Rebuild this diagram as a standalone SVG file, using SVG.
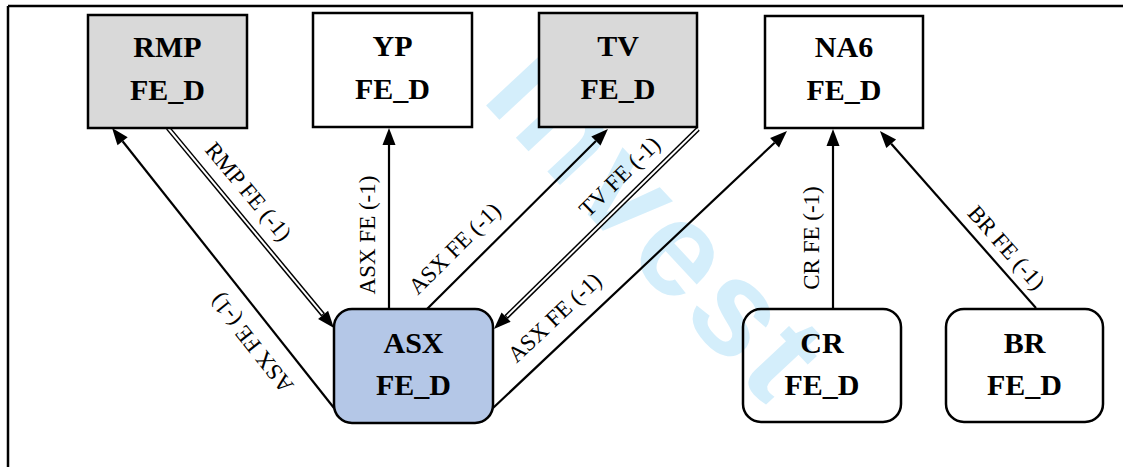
<svg xmlns="http://www.w3.org/2000/svg" width="1123" height="467" viewBox="0 0 1123 467">
<style>
.box{stroke:#000;stroke-width:2.5}
.plain{fill:#fff}
.gray{fill:#d9d9d9}
.blue{fill:#b4c7e7}
.nt{font-family:"Liberation Serif","Times New Roman",serif;font-weight:bold;font-size:30px;text-anchor:middle;fill:#000}
.lt{font-family:"Liberation Serif","Times New Roman",serif;font-size:23px;text-anchor:middle;fill:#000}
.ln{stroke:#000;stroke-width:2.2;fill:none}
.dbl{stroke:#000;stroke-width:5;fill:none}
.dblw{stroke:#fff;stroke-width:2;fill:none}
.wm{font-family:"Liberation Sans",Arial,sans-serif;font-weight:bold;font-size:135px;letter-spacing:6px;fill:#d4eefb}
</style>
<defs>
<marker id="ah" markerUnits="userSpaceOnUse" markerWidth="18" markerHeight="14" refX="0" refY="6.5" orient="auto" overflow="visible">
<path d="M0,0 L17,6.5 L0,13 z" fill="#000"/>
</marker>
</defs>
<rect width="1123" height="467" fill="#fff"/>
<g id="watermark">
<text class="wm" transform="translate(676,258) rotate(47)" x="-250" y="35">Invest</text>
</g>
<g id="frame">
<line x1="8" y1="6" x2="1123" y2="6" stroke="#000" stroke-width="2.5"/>
<line x1="8" y1="6" x2="8" y2="467" stroke="#000" stroke-width="2.5"/>
</g>
<g id="connectors">
<line class="ln" x1="334" y1="408" x2="122.6" y2="141.3" marker-end="url(#ah)"/>
<line class="dbl" x1="168" y1="128" x2="323.1" y2="314.9" marker-end="url(#ah)"/>
<line class="dblw" x1="168" y1="128" x2="322.5" y2="314.1"/>
<line class="ln" x1="389" y1="309" x2="389" y2="145" marker-end="url(#ah)"/>
<line class="ln" x1="427" y1="309" x2="595.9" y2="141.0" marker-end="url(#ah)"/>
<line class="dbl" x1="698" y1="129" x2="506.1" y2="317.1" marker-end="url(#ah)"/>
<line class="dblw" x1="698" y1="129" x2="506.8" y2="316.4"/>
<line class="ln" x1="493" y1="408" x2="774.6" y2="142.7" marker-end="url(#ah)"/>
<line class="ln" x1="833" y1="309" x2="833" y2="146" marker-end="url(#ah)"/>
<line class="ln" x1="1036" y1="308" x2="891.2" y2="143.8" marker-end="url(#ah)"/>
<g id="labels">
<text class="lt" transform="translate(252,343) rotate(231.6)" x="0" y="7">ASX FE (-1)</text>
<text class="lt" transform="translate(248,192) rotate(50.1)" x="0" y="7">RMP FE (-1)</text>
<text class="lt" transform="translate(368,235) rotate(-90)" x="0" y="7">ASX FE (-1)</text>
<text class="lt" transform="translate(455,249) rotate(-44.8)" x="0" y="7">ASX FE (-1)</text>
<text class="lt" transform="translate(620,177) rotate(-44.6)" x="0" y="7">TV FE (-1)</text>
<text class="lt" transform="translate(555,318) rotate(-43.2)" x="0" y="7">ASX FE (-1)</text>
<text class="lt" transform="translate(812,238) rotate(-90)" x="0" y="7">CR FE (-1)</text>
<text class="lt" transform="translate(1006,248) rotate(48.5)" x="0" y="7">BR FE (-1)</text>
</g>
</g>
<g id="RMP">
<rect class="box gray" x="88" y="15" width="159" height="113"/>
<text class="nt" x="167.5" y="57">RMP</text>
<text class="nt" x="167.5" y="100">FE_D</text>
</g>
<g id="YP">
<rect class="box plain" x="313" y="13" width="159" height="114"/>
<text class="nt" x="392.5" y="56">YP</text>
<text class="nt" x="392.5" y="99">FE_D</text>
</g>
<g id="TV">
<rect class="box gray" x="539" y="13" width="158" height="114"/>
<text class="nt" x="618" y="56">TV</text>
<text class="nt" x="618" y="99">FE_D</text>
</g>
<g id="NA6">
<rect class="box plain" x="765" y="16" width="158" height="112"/>
<text class="nt" x="844" y="57">NA6</text>
<text class="nt" x="844" y="100">FE_D</text>
</g>
<g id="ASX">
<rect class="box blue" x="334" y="309" width="159" height="114" rx="18" ry="18"/>
<text class="nt" x="413.5" y="353">ASX</text>
<text class="nt" x="413.5" y="395">FE_D</text>
</g>
<g id="CR">
<rect class="box" x="743" y="309" width="158" height="113" rx="18" ry="18" fill="none"/>
<text class="nt" x="822" y="353">CR</text>
<text class="nt" x="822" y="395">FE_D</text>
</g>
<g id="BR">
<rect class="box plain" x="946" y="309" width="157" height="113" rx="18" ry="18"/>
<text class="nt" x="1024.5" y="353">BR</text>
<text class="nt" x="1024.5" y="395">FE_D</text>
</g>
</svg>
